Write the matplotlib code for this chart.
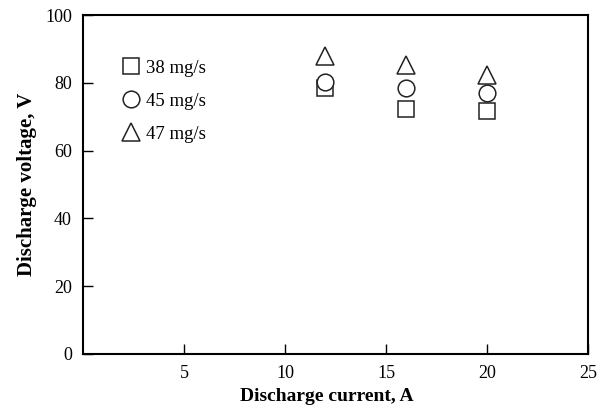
import matplotlib
matplotlib.use("Agg")
import matplotlib.pyplot as plt

current = [12, 16, 20]
v38 = [78.5, 72.3, 71.6]
v45 = [80.3, 78.5, 77.0]
v47 = [88.0, 85.2, 82.3]
labels = ["38 mg/s", "45 mg/s", "47 mg/s"]

plt.rcParams['font.family'] = ['Liberation Serif', 'DejaVu Serif']
fig = plt.figure(figsize=(6.1, 4.11), dpi=100)
ax = fig.add_axes([83/610, 1-354/411, (588-83)/610, (354-15)/411])

ms = 12
kw = dict(linestyle='none', markerfacecolor='white', markeredgecolor='#222222', markeredgewidth=1.1)
ax.plot(current, v38, marker='s', label=labels[0], markersize=ms, **kw)
ax.plot(current, v45, marker='o', label=labels[1], markersize=ms, **kw)
ax.plot(current, v47, marker='^', label=labels[2], markersize=ms+1, **kw)

ax.set_xlim(0, 25)
ax.set_ylim(0, 100)
ax.set_xticks([5, 10, 15, 20, 25])
ax.set_yticks([0, 20, 40, 60, 80, 100])
ax.tick_params(direction='in', length=7, width=1, labelsize=13, pad=8)
for s in ax.spines.values():
    s.set_linewidth(1.5)
ax.set_xlabel('Discharge current, A', fontsize=14, fontweight='bold', labelpad=6)
ax.set_ylabel('Discharge voltage, V', fontsize=15, fontweight='bold', labelpad=6)
ax.xaxis.set_label_coords(0.482, -0.1)

leg = ax.legend(loc='upper left', frameon=False, fontsize=13.5, handletextpad=0.25,
                labelspacing=0.85, handlelength=1.2, bbox_to_anchor=(0.057, 0.89),
                borderaxespad=0)
fig.savefig('out.png', dpi=100)
